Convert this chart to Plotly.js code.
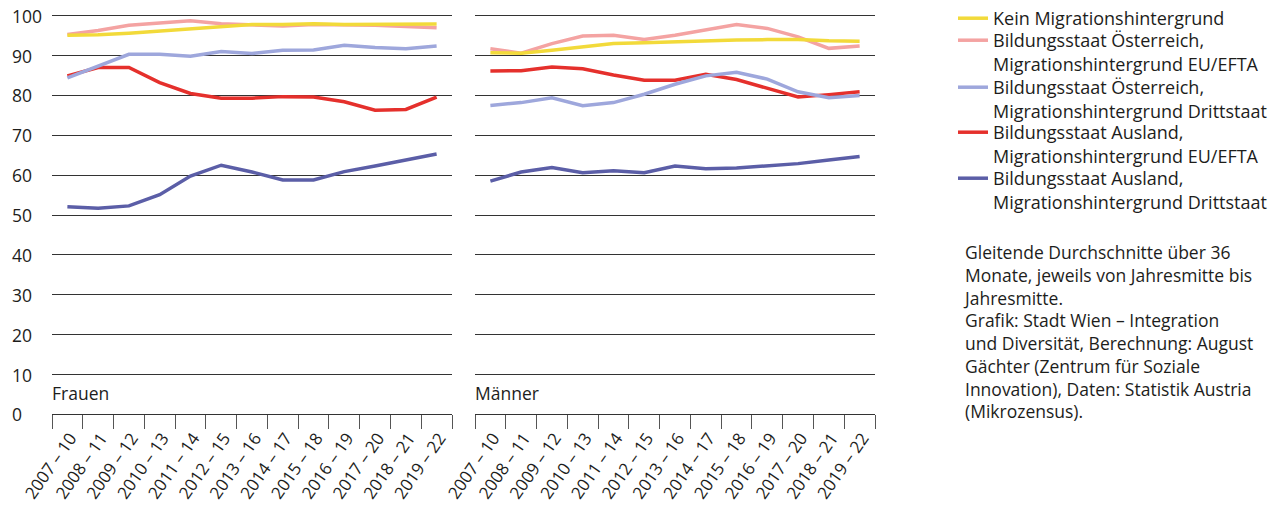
<!DOCTYPE html>
<html>
<head>
<meta charset="utf-8">
<script src="https://cdn.plot.ly/plotly-3.0.1.min.js"></script>
<style>html,body{margin:0;padding:0;background:#fff;}#chart{width:1283px;height:506px;}</style>
</head>
<body>
<div id="chart"></div>
<script>
const categories = ['2007 – 10','2008 – 11','2009 – 12','2010 – 13','2011 – 14','2012 – 15','2013 – 16','2014 – 17','2015 – 18','2016 – 19','2017 – 20','2018 – 21','2019 – 22'];

const seriesNames = [
  'Kein Migrationshintergrund',
  'Bildungsstaat Österreich,<br>Migrationshintergrund EU/EFTA',
  'Bildungsstaat Österreich,<br>Migrationshintergrund Drittstaat',
  'Bildungsstaat Ausland,<br>Migrationshintergrund EU/EFTA',
  'Bildungsstaat Ausland,<br>Migrationshintergrund Drittstaat'
];
const seriesColors = ['#f2da3a', '#f4a3a2', '#9ea7dc', '#e5302c', '#5b5ea7'];

const frauenKein     = [95.1, 95.2, 95.6, 96.2, 96.8, 97.4, 97.8, 97.8, 98.0, 97.8, 97.9, 97.9, 97.9];
const frauenOeEU     = [95.3, 96.3, 97.6, 98.2, 98.7, 98.0, 97.6, 97.4, 97.8, 97.8, 97.6, 97.3, 97.0];
const frauenOeDritt  = [84.4, 87.4, 90.3, 90.3, 89.8, 91.0, 90.5, 91.3, 91.4, 92.6, 92.0, 91.7, 92.4];
const frauenAusEU    = [84.9, 87.0, 87.0, 83.2, 80.5, 79.3, 79.3, 79.7, 79.6, 78.4, 76.3, 76.5, 79.6];
const frauenAusDritt = [52.1, 51.7, 52.3, 55.1, 59.8, 62.5, 60.8, 58.8, 58.8, 60.9, 62.3, 63.8, 65.3];

const maennerKein     = [90.7, 90.6, 91.3, 92.2, 93.0, 93.2, 93.5, 93.6, 93.9, 94.0, 94.0, 93.7, 93.6];
const maennerOeEU     = [91.7, 90.6, 93.0, 94.9, 95.1, 94.0, 95.1, 96.5, 97.8, 96.8, 94.7, 91.8, 92.4];
const maennerOeDritt  = [77.5, 78.2, 79.4, 77.4, 78.2, 80.3, 82.8, 84.9, 85.8, 84.1, 80.9, 79.4, 80.0];
const maennerAusEU    = [86.1, 86.2, 87.1, 86.7, 85.1, 83.8, 83.8, 85.3, 84.0, 81.8, 79.6, 80.2, 80.9];
const maennerAusDritt = [58.5, 60.8, 61.9, 60.6, 61.1, 60.6, 62.3, 61.6, 61.8, 62.3, 62.9, 63.8, 64.7];

const yTickVals = [0, 10, 20, 30, 40, 50, 60, 70, 80, 90, 100];
const panelLabels = ['Frauen', 'Männer'];
const noteText = 'Gleitende Durchschnitte über 36<br>Monate, jeweils von Jahresmitte bis<br>Jahresmitte.<br>Grafik: Stadt Wien – Integration<br>und Diversität, Berechnung: August<br>Gächter (Zentrum für Soziale<br>Innovation), Daten: Statistik Austria<br>(Mikrozensus).';

const FONT = '"Open Sans", "Noto Sans", sans-serif';
const FS = 17.5;
const TXT = '#1d1d1b';

const frauen = [frauenKein, frauenOeEU, frauenOeDritt, frauenAusEU, frauenAusDritt];
const maenner = [maennerKein, maennerOeEU, maennerOeDritt, maennerAusEU, maennerAusDritt];
// draw order bottom -> top
const drawOrder = [4, 3, 2, 1, 0];
const legendIds = ['legend', 'legend2', 'legend3', 'legend4', 'legend5'];
const legendTops = [-1, 22, 69, 114, 160]; // px from top

const traces = [];
drawOrder.forEach(i => {
  traces.push({x: categories, y: frauen[i], xaxis: 'x', yaxis: 'y', type: 'scatter', mode: 'lines',
    name: seriesNames[i], legend: legendIds[i], line: {color: seriesColors[i], width: 3.5},
    showlegend: true, hoverinfo: 'skip'});
});
drawOrder.forEach(i => {
  traces.push({x: categories, y: maenner[i], xaxis: 'x2', yaxis: 'y2', type: 'scatter', mode: 'lines',
    name: seriesNames[i], line: {color: seriesColors[i], width: 3.5}, showlegend: false, hoverinfo: 'skip'});
});

const W = 1283, H = 506;
const px = v => v / W;
const py = v => 1 - v / H;

const xCommon = {
  type: 'category', range: [-0.5, 12.5], tickson: 'boundaries', ticks: 'outside', ticklen: 14,
  tickcolor: '#555', tickwidth: 1, showline: true, linecolor: '#333', linewidth: 1,
  showgrid: false, zeroline: false, tickangle: -55, automargin: false,
  ticklabelstandoff: 6, ticklabelshift: 3,
  tickfont: {family: FONT, size: 17, color: TXT}, fixedrange: true
};
const yCommon = {
  range: [0, 102], showgrid: true, gridcolor: '#333', gridwidth: 1, zeroline: false,
  tickvals: yTickVals, showticklabels: false, ticks: '', automargin: false, fixedrange: true
};

const annotations = [];
yTickVals.forEach(v => {
  annotations.push({xref: 'paper', yref: 'y', x: px(10), y: v, xanchor: 'left', yanchor: 'middle',
    text: String(v), showarrow: false, font: {family: FONT, size: FS, color: TXT}});
});
annotations.push({xref: 'paper', yref: 'paper', x: px(50), y: py(393), xanchor: 'left', yanchor: 'middle',
  text: panelLabels[0], showarrow: false, font: {family: FONT, size: FS, color: TXT}});
annotations.push({xref: 'paper', yref: 'paper', x: px(473), y: py(393), xanchor: 'left', yanchor: 'middle',
  text: panelLabels[1], showarrow: false, font: {family: FONT, size: FS, color: TXT}});
annotations.push({xref: 'paper', yref: 'paper', x: px(961), y: py(237), xanchor: 'left', yanchor: 'top',
  align: 'left', text: noteText, showarrow: false, font: {family: FONT, size: FS, color: TXT}});

const layout = {
  width: W, height: H,
  margin: {l: 0, r: 0, t: 0, b: 0},
  paper_bgcolor: '#fff', plot_bgcolor: 'rgba(0,0,0,0)',
  font: {family: FONT, size: FS, color: TXT},
  xaxis: Object.assign({}, xCommon, {domain: [px(52), px(452)], anchor: 'y'}),
  xaxis2: Object.assign({}, xCommon, {domain: [px(475), px(875)], anchor: 'y2'}),
  yaxis: Object.assign({}, yCommon, {domain: [py(414.3), py(6.7)], anchor: 'x'}),
  yaxis2: Object.assign({}, yCommon, {domain: [py(414.3), py(6.7)], anchor: 'x2', matches: 'y'}),
  showlegend: true,
  annotations: annotations,
  hovermode: false
};
legendIds.forEach((id, k) => {
  layout[id] = {x: px(953), y: py(legendTops[k]), xanchor: 'left', yanchor: 'top',
    valign: 'top', font: {family: FONT, size: 18, color: TXT}, bgcolor: 'rgba(0,0,0,0)'};
});

Plotly.newPlot('chart', traces, layout, {staticPlot: true, displayModeBar: false});
</script>
</body>
</html>
